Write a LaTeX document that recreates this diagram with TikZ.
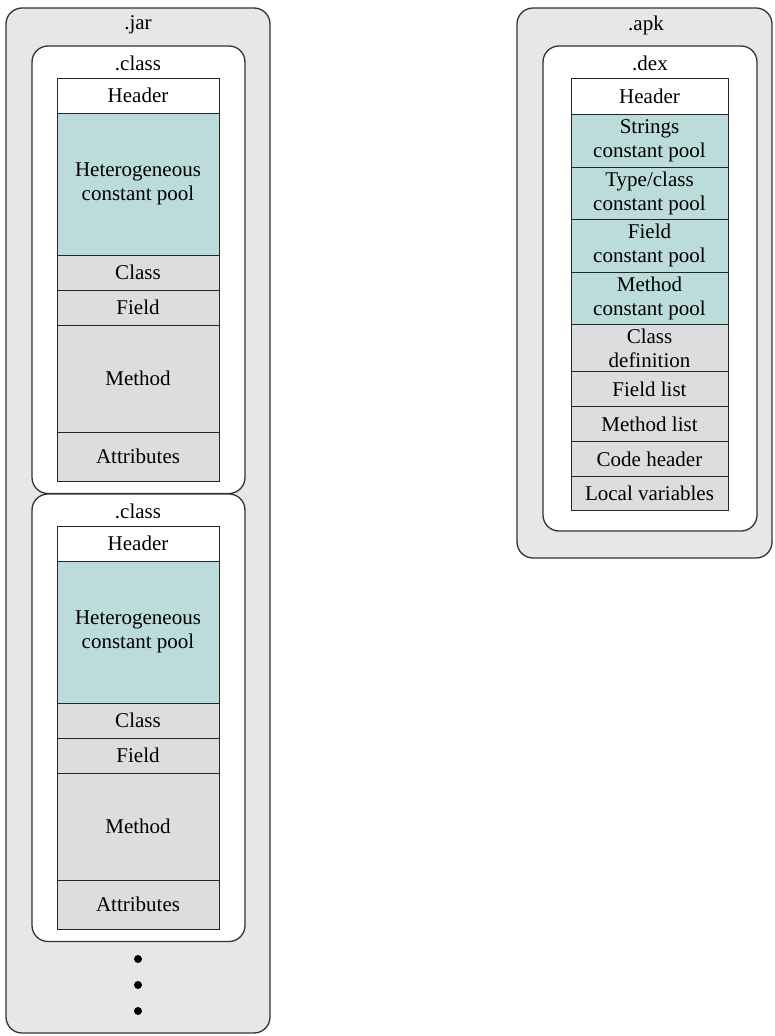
\documentclass[tikz,border=0pt]{standalone}
\usepackage{fontspec}
\setmainfont{Liberation Serif}
\usetikzlibrary{positioning}
\definecolor{poolteal}{RGB}{187,220,218}
\definecolor{cellgray}{RGB}{220,221,223}
\definecolor{outergray}{RGB}{230,231,233}

\tikzset{
  frame/.style={draw=black!80, line width=1.3pt, rounded corners=16pt},
  cell/.style={draw=black!85, line width=1pt, outer sep=0pt, inner sep=0pt, align=center, anchor=north},
  hdrcell/.style={cell, fill=white},
  poolcell/.style={cell, fill=poolteal},
  infocell/.style={cell, fill=cellgray},
}

\begin{document}
\begin{tikzpicture}[x=1pt, y=-1pt, every node/.style={font=\fontsize{21}{24}\selectfont}]
\useasboundingbox (0,0) rectangle (774,1036);

% .jar with two .class files
\draw[frame, fill=outergray] (6,8) rectangle (270,1033);
\node (jar) at (138,25) {.jar};
\foreach \k/\dy in {1/0, 2/448} {
  \draw[frame, fill=white] (32,{46+\dy}) rectangle (245,{493.5+\dy});
  \node (cls\k) at (138,{63+\dy}) {.class};
  \begin{scope}[every node/.append style={minimum width=162pt}]
  \node[hdrcell, minimum height=35pt] (hdr\k) at (138,{78+\dy}) {Header};
  \node[poolcell, minimum height=142pt, below=0pt of hdr\k] (pool\k) {Heterogeneous\\constant pool};
  \node[infocell, minimum height=35pt, below=0pt of pool\k] (class\k) {Class};
  \node[infocell, minimum height=35pt, below=0pt of class\k] (field\k) {Field};
  \node[infocell, minimum height=107pt, below=0pt of field\k] (method\k) {Method};
  \node[infocell, minimum height=49pt, below=0pt of method\k] (attr\k) {Attributes};
  \end{scope}
}
\foreach \i/\y in {1/959, 2/985, 3/1011}
  \node[circle, fill=black, inner sep=0pt, minimum size=8pt] (dot\i) at (138,\y) {};

% .apk with one .dex file
\draw[frame, fill=outergray] (517,8) rectangle (772,558);
\node (apk) at (646,25) {.apk};
\draw[frame, fill=white] (543,46) rectangle (757,531);
\node (dex) at (650,63) {.dex};
\begin{scope}[every node/.append style={minimum width=157pt}]
\node[hdrcell, minimum height=36pt] (dhdr) at (649.5,78) {Header};
\node[poolcell, minimum height=53pt, below=0pt of dhdr] (strpool) {Strings\\constant pool};
\node[poolcell, minimum height=52.5pt, below=0pt of strpool] (typepool) {Type/class\\constant pool};
\node[poolcell, minimum height=52.5pt, below=0pt of typepool] (fieldpool) {Field\\constant pool};
\node[poolcell, minimum height=52.5pt, below=0pt of fieldpool] (methpool) {Method\\constant pool};
\node[infocell, minimum height=47pt, below=0pt of methpool] (classdef) {Class\\definition};
\node[infocell, minimum height=35pt, below=0pt of classdef] (fieldlist) {Field list};
\node[infocell, minimum height=35pt, below=0pt of fieldlist] (methlist) {Method list};
\node[infocell, minimum height=35pt, below=0pt of methlist] (codehdr) {Code header};
\node[infocell, minimum height=34pt, below=0pt of codehdr] (locvars) {Local variables};
\end{scope}
\end{tikzpicture}
\end{document}
